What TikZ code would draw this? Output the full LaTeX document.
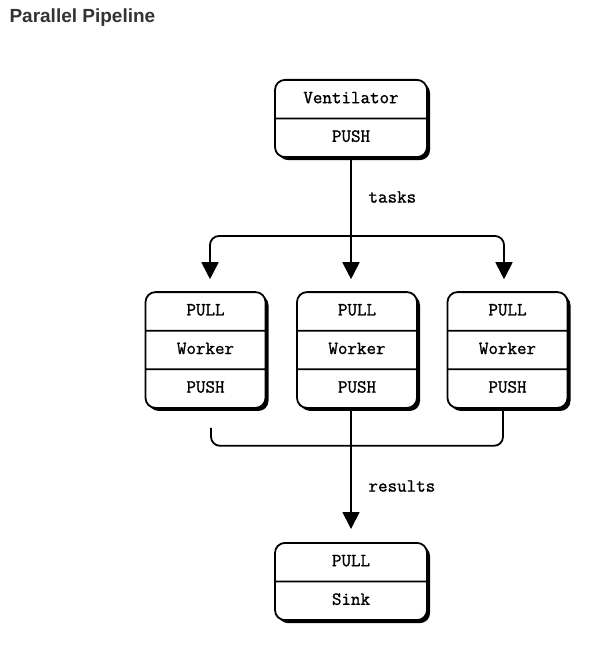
\documentclass[tikz,border=0pt]{standalone}
\usepackage{fontspec}
\setsansfont{Liberation Sans}
\newfontfamily\boxfont{Latin Modern Mono}[FakeBold=1.2]
\usetikzlibrary{shapes.multipart,shadows,arrows.meta}

\newcommand{\rowtext}[1]{\rule[-5pt]{0pt}{18pt}#1}

\begin{document}
\begin{tikzpicture} [
                x=1pt, y=-1pt,
                socket/.style={rectangle split, rectangle split parts=#1, draw, line width=1.8pt,
                    fill=white, rounded corners=10pt, inner ysep=9.4pt,
                    font=\fontsize{18.5}{21}\selectfont\boxfont,
                    general shadow={fill=black, shadow xshift=3pt, shadow yshift=-3pt}},
                wide/.style={minimum width=152pt},
                narrow/.style={minimum width=120pt},
                pipe/.style={draw, line width=1.8pt, rounded corners=9pt},
                flow/.style={pipe, -{Triangle[width=17pt,length=17pt]}},
                tag/.style={anchor=west, font=\fontsize{18.5}{21}\selectfont\boxfont},
            ]
            \useasboundingbox (0,0) rectangle (614,652);
            \node[anchor=west, font=\fontsize{19}{22}\selectfont\sffamily\bfseries, text=black!80]
                (title) at (6,18) {Parallel Pipeline};

            % boxes
            \node[socket=2, wide] (vent) at (351,118.5)
                {\rowtext{Ventilator}\nodepart{two}\rowtext{PUSH}};
            \foreach \x/\name in {
                    205.5/w1, 357/w2, 507.5/w3}
                \node[socket=3, narrow] (\name) at (\x,350)
                    {\rowtext{PULL}\nodepart{two}\rowtext{Worker}\nodepart{three}\rowtext{PUSH}};
            \node[socket=2, wide] (sink) at (351,581.5)
                {\rowtext{PULL}\nodepart{two}\rowtext{Sink}};

            % fan out
            \coordinate (split) at ([yshift=-78pt]vent.south);
            \path[flow] (vent.south) -- ([yshift=12pt]vent.south |- w2.north);
            \path[flow] (split) -| ([xshift=4.5pt,yshift=12pt]w1.north);
            \path[flow] (split) -| ([xshift=-3.5pt,yshift=12pt]w3.north);
            \node[tag] (tasks) at (365,197) {tasks};

            % collect
            \path[pipe] ([xshift=5.5pt,yshift=-19pt]w1.south) |- ([xshift=-4.5pt,yshift=-37pt]w3.south)
                -- ([xshift=-4.5pt]w3.south);
            \path[flow] (vent.south |- w2.south) -- ([yshift=13pt]sink.north);
            \node[tag] (results) at (365,486) {results};
        \end{tikzpicture}
\end{document}
